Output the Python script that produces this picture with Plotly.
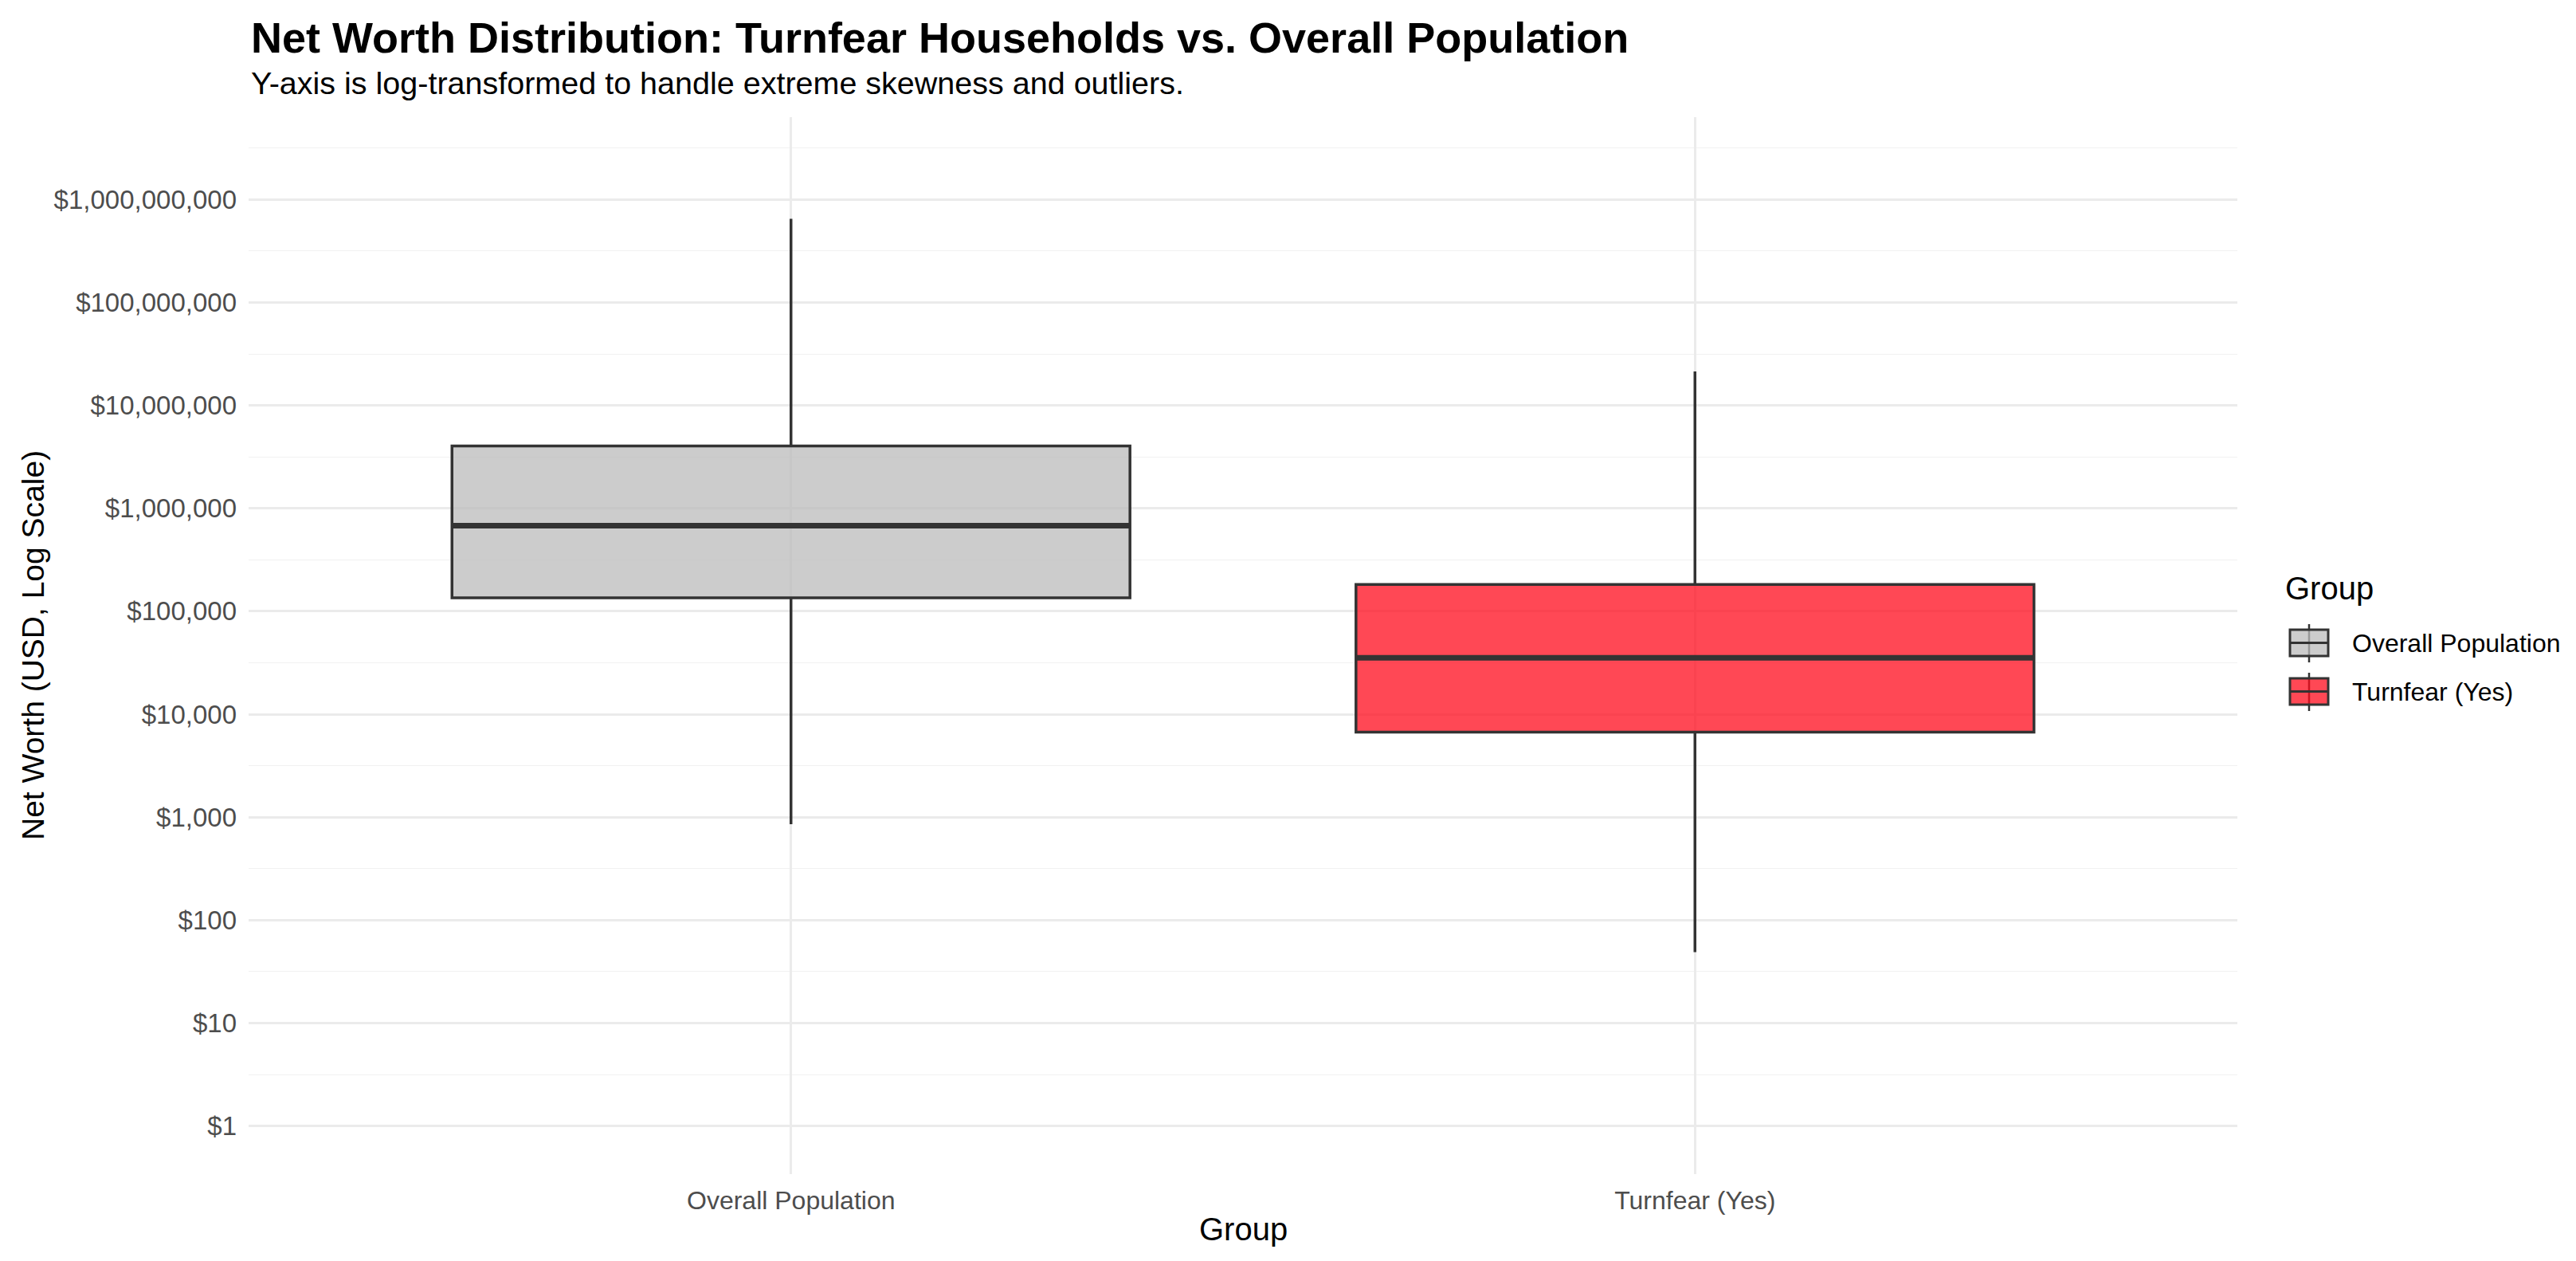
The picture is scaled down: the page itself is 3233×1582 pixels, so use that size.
import plotly.graph_objects as go

# ---------------- data ----------------
groups = ["Overall Population", "Turnfear (Yes)"]
q1_vals = [135000, 6700]
median_vals = [680000, 35300]
q3_vals = [4040000, 182000]
lower_whisker = [855, 49]
upper_whisker = [6.5e8, 2.14e7]

y_tick_vals = [1, 10, 100, 1000, 10000, 100000, 1000000, 10000000, 100000000, 1000000000]
y_tick_text = ["$1", "$10", "$100", "$1,000", "$10,000", "$100,000", "$1,000,000",
               "$10,000,000", "$100,000,000", "$1,000,000,000"]
y_minor_vals = [10 ** (k + 0.5) for k in range(-1, 10)]

# ---------------- style ----------------
W, H = 3233, 1582
ML, MR, MT, MB = 312, 425, 147, 109
PW, PH = W - ML - MR, H - MT - MB
FONT = "Liberation Sans, Arial, Helvetica, sans-serif"
fills = ["rgba(187,187,187,0.75)", "rgba(255,11,28,0.75)"]
edge = "#333333"
BOX_W = 0.75
LINE_W = 3.5
MED_W = 7


def px_x(x):
    return (x - ML) / PW


def px_y(y):
    return (H - MB - y) / PH


fig = go.Figure()
for i, g in enumerate(groups):
    fig.add_trace(go.Box(
        x=[i], q1=[q1_vals[i]], median=[median_vals[i]], q3=[q3_vals[i]],
        lowerfence=[lower_whisker[i]], upperfence=[upper_whisker[i]],
        name=g, width=BOX_W, whiskerwidth=0, fillcolor=fills[i],
        line=dict(color=edge, width=LINE_W), boxpoints=False,
        showlegend=False, hoverinfo="skip",
    ))
    # thicker median line (ggplot "fatten")
    fig.add_trace(go.Scatter(
        x=[i - BOX_W / 2, i + BOX_W / 2], y=[median_vals[i], median_vals[i]],
        mode="lines", line=dict(color=edge, width=MED_W),
        showlegend=False, hoverinfo="skip",
    ))

fig.update_layout(
    width=W, height=H,
    margin=dict(l=ML, r=MR, t=MT, b=MB, pad=0),
    paper_bgcolor="white", plot_bgcolor="white",
    boxmode="overlay",
    font=dict(family=FONT, color="black"),
    showlegend=False,
)
fig.update_xaxes(
    type="linear", range=[-0.6, 1.6],
    tickmode="array", tickvals=list(range(len(groups))), ticktext=groups,
    showgrid=True, gridcolor="#EBEBEB", gridwidth=2.6,
    zeroline=False, showline=False, ticks="",
    tickfont=dict(size=32, color="#4D4D4D", family=FONT),
    ticklabelstandoff=11,
)
fig.update_yaxes(
    type="log", range=[-0.467, 9.80],
    tickmode="array", tickvals=y_tick_vals, ticktext=y_tick_text,
    showgrid=True, gridcolor="#EBEBEB", gridwidth=2.6,
    zeroline=False, showline=False, ticks="",
    tickfont=dict(size=33, color="#4D4D4D", family=FONT),
    ticklabelstandoff=14,
    minor=dict(tickmode="array", tickvals=y_minor_vals, showgrid=True,
               gridcolor="#F1F1F1", gridwidth=1.4, ticks=""),
)

ann = []
ann.append(dict(text="<b>Net Worth Distribution: Turnfear Households vs. Overall Population</b>",
                x=px_x(313), y=px_y(47), xref="paper", yref="paper",
                xanchor="left", yanchor="middle", showarrow=False,
                font=dict(size=54, color="black", family=FONT)))
ann.append(dict(text="Y-axis is log-transformed to handle extreme skewness and outliers.",
                x=px_x(313), y=px_y(104), xref="paper", yref="paper",
                xanchor="left", yanchor="middle", showarrow=False,
                font=dict(size=39.5, color="black", family=FONT)))
ann.append(dict(text="Group", x=0.5, y=px_y(1542), xref="paper", yref="paper",
                xanchor="center", yanchor="middle", showarrow=False,
                font=dict(size=40, color="black", family=FONT)))
ann.append(dict(text="Net Worth (USD, Log Scale)", x=px_x(41), y=0.5,
                xref="paper", yref="paper", textangle=-90,
                xanchor="center", yanchor="middle", showarrow=False,
                font=dict(size=39, color="black", family=FONT)))

# legend (drawn manually to match key sizes)
ann.append(dict(text="Group", x=px_x(2866), y=px_y(738), xref="paper", yref="paper",
                xanchor="left", yanchor="middle", showarrow=False,
                font=dict(size=40, color="black", family=FONT)))
shapes = []
key_tops = [790, 851]
KEY_H = 33
for i, g in enumerate(groups):
    top = key_tops[i]
    bot = top + KEY_H
    mid = (top + bot) / 2
    xc = 2898
    shapes.append(dict(type="line", xref="paper", yref="paper",
                       x0=px_x(xc), x1=px_x(xc), y0=px_y(top - 7), y1=px_y(bot + 8),
                       line=dict(color=edge, width=2.5)))
    shapes.append(dict(type="rect", xref="paper", yref="paper",
                       x0=px_x(2874), x1=px_x(2922), y0=px_y(bot), y1=px_y(top),
                       fillcolor=fills[i], line=dict(color=edge, width=3)))
    shapes.append(dict(type="line", xref="paper", yref="paper",
                       x0=px_x(2874), x1=px_x(2922), y0=px_y(mid), y1=px_y(mid),
                       line=dict(color=edge, width=3)))
    ann.append(dict(text=g, x=px_x(2950), y=px_y(mid), xref="paper", yref="paper",
                    xanchor="left", yanchor="middle", showarrow=False,
                    font=dict(size=32, color="black", family=FONT)))

fig.update_layout(annotations=ann, shapes=shapes)

fig.write_html("out.html", config={"displayModeBar": False},
               post_script="document.body.style.margin='0';document.body.style.overflow='hidden';")
